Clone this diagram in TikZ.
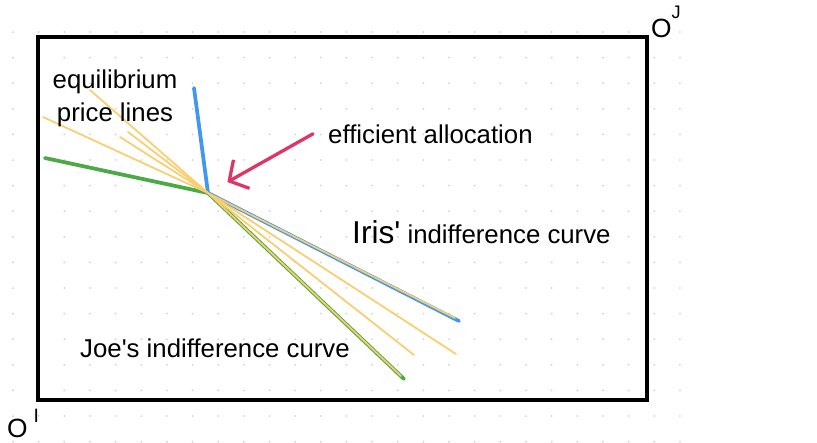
\documentclass[tikz,border=0pt]{standalone}
\usepackage{fontspec}
\setmainfont{Liberation Sans}[Ligatures=TeXOff]
\usetikzlibrary{arrows.meta,positioning}

\definecolor{irisblue}{RGB}{66,153,235}
\definecolor{joegreen}{RGB}{76,170,70}
\definecolor{priceyellow}{RGB}{250,205,110}
\definecolor{arrowred}{RGB}{224,52,100}
\definecolor{dotgray}{RGB}{210,210,210}

\begin{document}
\begin{tikzpicture}[
  x=0.03cm, y=-0.03cm,
  every node/.style={font=\fontsize{22}{28}\selectfont, inner sep=0pt},
  edgebox/.style={draw=black, line width=2.6pt},
  irisline/.style={irisblue, line width=3.2pt, line cap=round, line join=round},
  joeline/.style={joegreen, line width=3.2pt, line cap=round, line join=round},
  priceline/.style={priceyellow, line width=1.5pt, line cap=round, line join=round},
  effarrow/.style={
    -{Straight Barb[length=12pt,width=28pt]},
    arrowred, line width=2.8pt, line cap=round, line join=round
  },
  originlabel/.style={font=\fontsize{22.5}{26}\selectfont},
]
\useasboundingbox (0,0) rectangle (817,442);

% --- Dot grid ---
\foreach \i in {0,...,26}
  \foreach \j in {0,...,16}
    \fill[dotgray] (13+25.65*\i, 32+25.6*\j) circle (1);

% --- Edgeworth box ---
\draw[edgebox] (38,37) rectangle (647,400);

% --- Points ---
\coordinate (E) at (208,193);
\coordinate (irisA) at (194,88);
\coordinate (irisB) at (459,321);
\coordinate (joeA) at (45,158);
\coordinate (joeB) at (404,379);
\coordinate (priceA1) at (43,117);
\coordinate (priceB1) at (455,318);
\coordinate (priceA2) at (90,90);
\coordinate (priceB2) at (401,376);
\coordinate (priceA3) at (120,137);
\coordinate (priceB3) at (456,354);
\coordinate (priceA4) at (128,132);
\coordinate (priceB4) at (414,355);

% --- Indifference curves ---
\draw[joeline] (joeA) -- (E) -- (joeB);
\draw[irisline] (irisA) -- (E) -- (irisB);

% --- Price lines ---
\foreach \k in {1,...,4}
  \draw[priceline] (priceA\k) -- (E) -- (priceB\k);

% --- Labels ---
\node[align=center, anchor=north] (eqlabel) at (115,70)
  {equilibrium\\price lines};
\node[anchor=base west] (efflabel) at (328,143) {efficient allocation};
\node[anchor=base west] (irislabel) at (352,243)
  {{\fontsize{27}{28}\selectfont Iris'} indifference curve};
\node[anchor=base west] (joelabel) at (80,357) {Joe's indifference curve};

\node[originlabel, anchor=base west] (originJ) at (651,37)
  {O\raisebox{16pt}{\fontsize{15.5}{16}\selectfont J}};
\node[originlabel, anchor=base west] (originI) at (7,437)
  {O\hspace{5pt}\raisebox{12.8pt}{\fontsize{16.5}{17}\selectfont I}};

% --- Arrow to the efficient point ---
\coordinate (arrowtail) at ([xshift=-12.8pt]efflabel.west);
\draw[effarrow, shorten >=19pt] (arrowtail) -- (E);

\end{tikzpicture}
\end{document}
